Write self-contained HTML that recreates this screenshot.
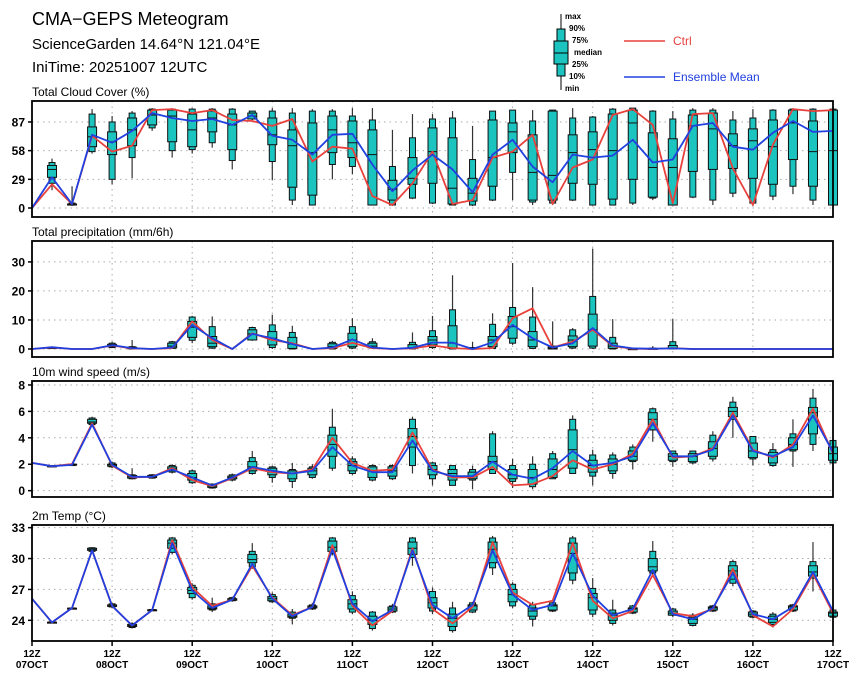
<!DOCTYPE html>
<html><head><meta charset="utf-8">
<style>
html,body{margin:0;padding:0;background:#fff;}
svg{display:block;font-family:"Liberation Sans",sans-serif;}
</style></head>
<body>
<svg id="chart" width="860" height="680" viewBox="0 0 860 680" xmlns="http://www.w3.org/2000/svg">
<text x="32" y="25" font-size="18" fill="#000">CMA−GEPS Meteogram</text>
<text x="32" y="49" font-size="15" fill="#000">ScienceGarden 14.64°N 121.04°E</text>
<text x="32" y="72" font-size="15" fill="#000">IniTime: 20251007 12UTC</text>
<g>
<line x1="561" y1="14" x2="561" y2="90" stroke="#000" stroke-width="1"/>
<rect x="557" y="29" width="8" height="47" fill="#1cc4c0" stroke="#000" stroke-width="1"/>
<rect x="554" y="41" width="14" height="23" fill="#1cc4c0" stroke="#000" stroke-width="1"/>
<line x1="554" y1="53" x2="568" y2="53" stroke="#000"/>
<g font-size="8" font-weight="bold" fill="#000">
<text x="565" y="19">max</text><text x="569" y="31">90%</text><text x="572" y="43">75%</text>
<text x="574" y="55">median</text><text x="572" y="67">25%</text><text x="569" y="79">10%</text><text x="565" y="91">min</text>
</g></g>
<g>
<line x1="624" y1="41" x2="665" y2="41" stroke="#e8403c" stroke-width="1.5"/>
<text x="673" y="45" font-size="12" fill="#e8403c">Ctrl</text></g>
<g>
<line x1="624" y1="77" x2="665" y2="77" stroke="#2040e0" stroke-width="1.5"/>
<text x="673" y="81" font-size="12" fill="#2040e0">Ensemble Mean</text></g>
<g id="panels"></g>
</svg>
<script>
// ---------- data ----------
const xDates = ["07OCT","08OCT","09OCT","10OCT","11OCT","12OCT","13OCT","14OCT","15OCT","16OCT","17OCT"];
const N = 41;
// Cloud cover
const cloudMax = [null,50,22,100,93,98,101,101,101,101,101,98,101,101,100,100,101,101,79,95,95,98,83,98,99,99,99,101,93,101,101,99,98,101,101,98,100,100,101,101,101];
const cloudP90 = [null,46,5,95,87,96,100,100,100,100,100,98,98,96,98,98,93,89,42,71,90,91,49,98,99,88,99,91,92,100,101,98,90,99,99,89,91,99,100,100,100];
const cloudP75 = [null,43,4,82,77,91,99,99,95,98,95,96,91,79,86,93,88,79,28,51,81,71,30,89,86,74,98,74,77,95,99,76,70,94,96,75,80,89,99,88,99];
const cloudMed = [null,39,4,72,67,79,94,93,79,91,84,93,74,63,56,79,66,54,19,30,57,20,15,51,77,36,33,56,59,58,86,41,41,83,80,63,68,62,86,57,58];
const cloudP25 = [null,31,3,62,54,63,84,67,62,77,59,90,64,21,13,56,51,3,8,24,25,4,7,22,56,8,8,25,24,9,29,11,3,37,39,40,30,24,49,22,3];
const cloudP10 = [null,25,3,57,29,51,81,58,59,66,48,90,47,8,3,44,42,3,3,10,5,3,3,8,36,6,5,8,3,3,5,10,3,11,8,15,5,12,22,8,3];
const cloudMin = [null,18,2,55,24,30,78,51,55,61,39,89,28,3,3,29,34,3,2,9,4,3,2,7,8,3,3,7,3,3,3,8,3,10,3,11,3,8,14,3,3];
const cloudCtrl = [0,24,4,73,57,63,99,100,96,99,89,88,83,90,47,62,60,12,3,25,57,4,8,51,57,74,4,41,49,94,100,84,5,95,96,40,3,64,100,98,99];
const cloudMean = [0,31,4,74,66,78,96,91,88,90,84,94,73,69,54,74,75,44,17,38,54,39,16,54,69,42,26,54,51,53,69,46,49,83,86,62,59,76,88,77,78];
const cloudTicks = [0,29,58,87];
// Precipitation
const prMax = [0,0.7,0,0,2.5,3.1,0,2.8,11.4,11.2,0,7.7,11.8,8,0,2.8,10.6,3.7,0,5.7,11.4,25.4,2.5,12.3,29.6,21.3,9.5,7.2,34.6,10.3,0.5,1,10.3,0,0,0,0,0,0,0,0];
const prP90 = [0,0.6,0,0,2,0.8,0,2.5,11,7.7,0,7.4,8.3,5.7,0,2.3,7.7,2.5,0,2.3,6.3,13.5,0.5,8.5,14.3,11,1,6.6,18.1,4,0.2,0.3,2.5,0,0,0,0,0,0,0,0];
const prP75 = [0,0.5,0,0,1.6,0.6,0,2,9.5,4.3,0,6.6,6,4,0,1.8,5.4,2,0,1.5,4.3,8,0.3,4.3,11.2,6,0.7,4.5,12,2,0.1,0.2,1.2,0,0,0,0,0,0,0,0];
const prMed = [0,0.4,0,0,1.2,0.3,0,1,7.5,2,0,5.2,3.7,1.7,0,0.8,3.1,1,0,0.5,3.1,2,0.1,3.1,7.7,3.1,0.3,3.1,6.6,1,0,0,0.2,0,0,0,0,0,0,0,0];
const prP25 = [0,0.3,0,0,0.8,0.1,0,0.4,4,0.8,0,3.1,1.4,0.2,0,0.2,0.8,0.5,0,0.2,1.4,0.2,0,0.8,3.7,0.8,0,0.8,1,0.2,0,0,0,0,0,0,0,0,0,0,0];
const prP10 = [0,0.2,0,0,0.5,0,0,0.2,3,0.3,0,3.1,0.5,0,0,0,0.3,0.3,0,0,0.5,0,0,0.2,2,0.2,0,0.3,0.3,0,0,0,0,0,0,0,0,0,0,0,0];
const prMin = [0,0,0,0,0.3,0,0,0,2,0,0,2.8,0,0,0,0,0,0,0,0,0,0,0,0,1.4,0,0,0,0,0,0,0,0,0,0,0,0,0,0,0,0];
const prCtrl = [0,0.5,0,0,1.2,0.2,0,0.3,9.5,3.1,0,5.4,3.1,2,0,0.3,2.1,0.3,0,0.2,1.2,0.3,0,0.3,10.6,14,0.5,2.5,6.6,1,0.1,0,0.3,0,0,0,0,0,0,0,0];
const prMean = [0,0.6,0,0,1.3,0.3,0,0.5,8.3,3.7,0,5.2,3.7,1.7,0,0.5,3.3,0.5,0,0.4,2.2,2.2,0,2.3,8.3,3.7,0.5,2,7.2,1.2,0.2,0.1,0.2,0,0,0,0,0,0,0,0];
const prTicks = [0,10,20,30];
// Wind
const wsMax = [null,1.95,2.05,5.6,2.2,1.7,1.25,2.0,1.6,0.55,1.3,3.0,1.9,2.1,2.0,6.2,2.6,2.0,2.0,5.6,2.2,1.9,1.9,4.5,2.4,2.6,3.0,5.7,3.1,2.9,3.5,6.3,3.0,3.0,4.5,7.1,4.1,3.6,5.4,7.7,3.8];
const wsP90 = [null,1.9,2.02,5.5,2.1,1.2,1.2,1.9,1.5,0.5,1.2,2.5,1.8,1.6,1.8,4.8,2.4,1.9,1.9,5.4,2.1,1.9,1.6,4.3,1.9,2.0,2.8,5.4,2.7,2.7,3.3,6.2,3.0,3.0,4.2,6.7,4.1,3.1,4.3,7.0,3.8];
const wsP75 = [null,1.88,2.0,5.4,2.0,1.15,1.15,1.8,1.3,0.45,1.1,2.2,1.7,1.5,1.7,4.2,2.2,1.8,1.8,4.7,1.9,1.6,1.4,2.6,1.6,1.6,2.4,4.6,2.3,2.4,3.0,5.9,2.8,2.8,3.7,6.3,3.6,2.9,4.0,6.3,3.3];
const wsMed = [null,1.85,1.97,5.2,1.95,1.05,1.05,1.65,1.0,0.35,1.0,1.8,1.5,1.3,1.5,3.5,1.9,1.5,1.5,4.1,1.6,1.3,1.1,2.2,1.2,1.0,1.6,3.1,1.9,2.0,2.6,5.4,2.6,2.6,3.2,6.0,3.0,2.6,3.5,5.9,2.8];
const wsP25 = [null,1.82,1.93,5.1,1.85,0.95,1.0,1.5,0.8,0.25,0.9,1.5,1.2,0.9,1.2,2.6,1.5,1.0,1.1,3.3,1.2,0.8,0.9,1.6,0.9,0.5,1.0,1.7,1.4,1.5,2.3,4.6,2.3,2.2,2.6,5.6,2.5,2.1,3.1,4.3,2.3];
const wsP10 = [null,1.8,1.9,5.0,1.8,0.9,0.95,1.4,0.6,0.2,0.8,1.3,1.0,0.7,1.0,1.7,1.3,0.8,0.9,1.9,0.9,0.4,0.8,1.3,0.7,0.3,0.9,1.3,1.1,1.3,2.2,4.6,2.2,2.1,2.4,5.4,2.4,1.9,3.0,3.5,2.1];
const wsMin = [null,1.78,1.88,4.9,1.7,0.85,0.9,1.3,0.5,0.15,0.7,1.2,0.6,0.2,0.9,1.5,1.2,0.7,0.8,1.3,0.4,0.4,0.1,1.3,0.2,0.1,0.9,1.3,0.4,0.9,1.6,3.7,1.8,2.0,2.2,4.0,1.9,1.8,1.8,3.0,2.0];
const wsCtrl = [2.1,1.85,2.0,5.1,1.9,1.0,1.05,1.7,0.8,0.35,0.95,1.7,1.4,1.3,1.6,4.0,2.1,1.5,1.6,4.4,1.6,1.0,1.0,1.8,0.4,0.5,1.1,2.3,1.6,2.0,2.8,5.4,2.5,2.6,3.2,5.9,3.1,2.5,3.5,6.2,2.8];
const wsMean = [2.1,1.85,1.95,5.0,1.95,1.05,1.05,1.6,1.0,0.4,1.0,1.8,1.5,1.3,1.5,3.3,1.9,1.4,1.4,3.8,1.5,1.1,1.1,2.2,1.2,0.9,1.7,3.0,1.9,2.1,2.6,5.1,2.6,2.6,3.1,5.7,3.0,2.6,3.3,5.7,2.9];
const wsTicks = [0,2,4,6,8];
// Temperature
const tMax = [null,23.9,25.25,31.1,25.7,23.8,25.1,32.1,27.6,26.2,26.3,31.5,26.7,25.1,25.7,32.1,26.8,24.9,25.6,32.1,27.2,25.8,25.8,32.2,27.7,25.8,25.8,32.2,28.1,26.0,25.5,31.7,25.2,24.7,25.5,29.9,25.0,24.8,25.6,31.6,25.1];
const tP90 = [null,23.85,25.2,31.05,25.6,23.7,25.05,32.0,27.4,25.6,26.2,30.7,26.5,24.8,25.5,32.0,26.4,24.8,25.4,32.0,26.8,25.2,25.7,32.0,27.5,25.5,25.7,32.0,27.1,25.0,25.4,30.7,25.1,24.5,25.4,29.7,24.9,24.6,25.5,29.7,25.0];
const tP75 = [null,23.82,25.18,31.0,25.5,23.6,25.02,31.8,27.2,25.4,26.1,30.4,26.3,24.6,25.4,31.7,26.0,24.4,25.3,31.6,26.2,24.6,25.5,31.6,27.0,25.2,25.5,31.5,26.6,24.7,25.2,30.0,24.9,24.3,25.3,29.3,24.8,24.4,25.4,29.3,24.8];
const tMed = [null,23.8,25.15,30.9,25.4,23.5,25.0,31.5,26.9,25.2,26.0,29.9,26.1,24.4,25.3,31.1,25.6,24.0,25.1,31.0,25.7,24.2,25.4,30.9,26.5,24.9,25.4,30.5,26.2,24.5,25.1,29.2,24.7,24.1,25.2,28.8,24.6,24.1,25.3,28.7,24.7];
const tP25 = [null,23.78,25.12,30.8,25.35,23.4,24.98,31.0,26.6,25.1,25.95,29.6,25.9,24.3,25.2,30.7,25.1,23.6,24.9,30.4,25.2,23.4,25.0,29.6,25.8,24.4,25.0,28.6,25.0,24.0,24.8,28.8,24.5,23.7,25.0,28.0,24.4,23.8,25.0,28.3,24.4];
const tP10 = [null,23.75,25.1,30.7,25.3,23.3,24.95,30.6,26.2,25.0,25.9,29.2,25.8,24.2,25.1,30.5,24.8,23.2,24.8,30.1,24.9,23.0,24.8,29.1,25.4,24.1,24.9,27.9,24.6,23.7,24.7,28.6,24.5,23.5,24.9,27.6,24.3,23.6,24.9,28.1,24.3];
const tMin = [null,23.7,25.05,30.6,25.2,23.2,24.9,30.4,26.0,24.8,25.8,29.0,25.7,23.6,25.0,30.3,24.6,23.0,24.7,29.3,24.6,22.8,24.7,28.4,25.2,23.4,24.8,27.5,24.3,23.5,24.6,28.3,24.3,23.4,24.8,27.3,24.2,23.3,24.8,26.8,24.2];
const tCtrl = [26.1,23.8,25.2,30.8,25.4,23.5,25.0,31.8,27.2,25.4,26.0,29.3,26.2,24.5,25.3,31.3,25.4,23.5,24.9,31.0,25.1,23.7,25.3,31.6,26.7,25.5,25.9,31.5,25.9,24.2,24.9,28.4,24.7,24.4,25.1,29.0,24.5,23.4,25.1,28.5,24.7];
const tMean = [26.1,23.8,25.2,30.8,25.4,23.5,25.0,31.5,26.9,25.2,26.0,29.5,26.1,24.4,25.3,30.9,25.6,23.9,25.0,30.8,25.5,24.2,25.5,30.8,26.5,25.0,25.5,30.5,26.4,24.5,25.1,28.9,24.6,24.1,25.2,28.6,24.6,24.1,25.3,28.7,24.9];
const tTicks = [24,27,30,33];

// ---------- drawing ----------
const NS = "http://www.w3.org/2000/svg";
const root = document.getElementById("panels");
const X0 = 32, X1 = 833;
function xs(i){ return X0 + (X1 - X0) * i / (N - 1); }
function mk(tag, attrs, parent){
  const e = document.createElementNS(NS, tag);
  for (const k in attrs) e.setAttribute(k, attrs[k]);
  (parent || root).appendChild(e);
  return e;
}
const panels = [
  {key:"cloud", title:"Total Cloud Cover (%)", top:101, bot:217, vmin:-9.1, vmax:108.2, ticks:cloudTicks,
   mn:cloudMin,p10:cloudP10,p25:cloudP25,md:cloudMed,p75:cloudP75,p90:cloudP90,mx:cloudMax,ctrl:cloudCtrl,mean:cloudMean},
  {key:"precip", title:"Total precipitation (mm/6h)", top:241, bot:357, vmin:-2.76, vmax:37.2, ticks:prTicks,
   mn:prMin,p10:prP10,p25:prP25,md:prMed,p75:prP75,p90:prP90,mx:prMax,ctrl:prCtrl,mean:prMean, skipZero:true},
  {key:"wind", title:"10m wind speed (m/s)", top:381, bot:497, vmin:-0.48, vmax:8.3, ticks:wsTicks,
   mn:wsMin,p10:wsP10,p25:wsP25,md:wsMed,p75:wsP75,p90:wsP90,mx:wsMax,ctrl:wsCtrl,mean:wsMean},
  {key:"temp", title:"2m Temp (°C)", top:525, bot:641, vmin:21.99, vmax:33.26, ticks:tTicks,
   mn:tMin,p10:tP10,p25:tP25,md:tMed,p75:tP75,p90:tP90,mx:tMax,ctrl:tCtrl,mean:tMean, xlabels:true}
];
panels.forEach(p => {
  const g = mk("g", {});
  
  
  const ys = v => p.bot - (v - p.vmin) / (p.vmax - p.vmin) * (p.bot - p.top);
  const t = mk("text", {x:32, y:p.top - 5, "font-size":12, fill:"#000"}, g);
  t.textContent = p.title;
  
  
  for (let d = 1; d < xDates.length - 1; d++) {
    const gl = mk("line", {x1:xs(d*4), x2:xs(d*4), y1:p.top, y2:p.bot, stroke:"#aaa", "stroke-width":1, "stroke-dasharray":"1.5,4"}, g);
    
    
  }
  p.ticks.forEach(v => {
    const y = ys(v);
    const hl = mk("line", {x1:X0, x2:X1, y1:y, y2:y, stroke:"#aaa", "stroke-width":1, "stroke-dasharray":"1.5,4"}, g);
    
    
    mk("line", {x1:X0-4, x2:X0, y1:y, y2:y, stroke:"#000", "stroke-width":1.5}, g);
    const tl = mk("text", {x:X0-7, y:y+4.5, "font-size":12, "font-weight":"bold", "text-anchor":"end", fill:"#000"}, g);
    tl.textContent = String(v);
    
    
  });
  for (let i = 0; i < N; i++) {
    if (p.mx[i] === null) continue;
    if (p.skipZero && p.mx[i] <= 0) continue;
    const x = xs(i);
    const bg = mk("g", {}, g);
    
    
    mk("line", {x1:x, x2:x, y1:ys(p.mn[i]), y2:ys(p.mx[i]), stroke:"#333", "stroke-width":1.2}, bg);
    const o1 = ys(p.p90[i]), o2 = ys(p.p10[i]);
    mk("rect", {x:x-3, y:o1, width:6, height:Math.max(1, o2-o1), fill:"#1cc4c0", stroke:"#111", "stroke-width":1}, bg);
    const i1 = ys(p.p75[i]), i2 = ys(p.p25[i]);
    mk("rect", {x:x-4.5, y:i1, width:9, height:Math.max(1, i2-i1), fill:"#1cc4c0", stroke:"#111", "stroke-width":1}, bg);
    const ym = ys(p.md[i]);
    mk("line", {x1:x-4.5, x2:x+4.5, y1:ym, y2:ym, stroke:"#111", "stroke-width":1}, bg);
  }
  const path = arr => arr.map((v,i) => (i ? "L" : "M") + xs(i).toFixed(1) + "," + ys(v).toFixed(1)).join("");
  const lc = mk("path", {d:path(p.ctrl), fill:"none", stroke:"#e8403c", "stroke-width":1.8, "stroke-linejoin":"round"}, g);
  
  
  const lm = mk("path", {d:path(p.mean), fill:"none", stroke:"#2040e0", "stroke-width":1.8, "stroke-linejoin":"round"}, g);
  
  
  const fr = mk("rect", {x:X0, y:p.top, width:X1-X0, height:p.bot-p.top, fill:"none", stroke:"#000", "stroke-width":1.8}, g);
  
  
  if (p.xlabels) {
    xDates.forEach((d, k) => {
      const x = xs(k*4);
      mk("line", {x1:x, x2:x, y1:p.bot, y2:p.bot+5, stroke:"#000", "stroke-width":1.5}, g);
      const t1 = mk("text", {x:x, y:p.bot+16, "font-size":10, "font-weight":"bold", "text-anchor":"middle", fill:"#000"}, g);
      t1.textContent = "12Z";
      
      
      const t2 = mk("text", {x:x, y:p.bot+27, "font-size":10, "font-weight":"bold", "text-anchor":"middle", fill:"#000"}, g);
      t2.textContent = d;
      
      
    });
  }
});
</script>
</body></html>
